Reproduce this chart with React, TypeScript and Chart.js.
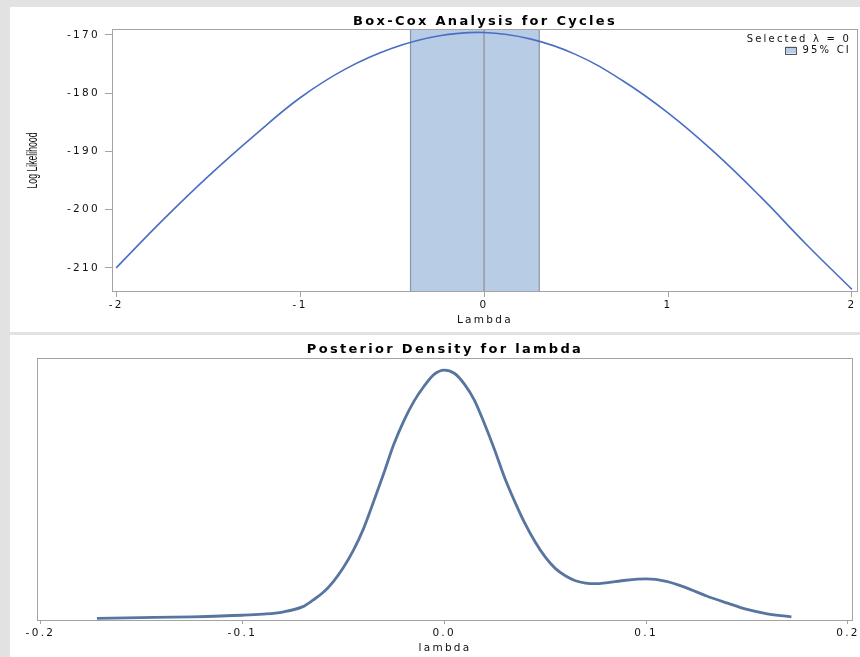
import { useEffect, useRef } from "react";
import { Chart, registerables } from "chart.js";

Chart.register(...registerables);

// ---- Box-Cox profile log likelihood ----
const boxCoxLambda = [-2, -1.75, -1.5, -1.25, -1, -0.75, -0.5, -0.25, 0, 0.25, 0.5, 0.75, 1, 1.25, 1.5, 1.75, 2];
const logLikelihood = [-210.0, -201.9, -194.3, -187.3, -180.8, -175.8, -172.3, -170.2, -169.6, -170.7, -173.4, -177.8, -183.4, -190.1, -197.7, -205.9, -213.7];
const logLikTicks = [-210, -200, -190, -180, -170];
const lambdaTicks = [-2, -1, 0, 1, 2];
const ciLower = -0.4;
const ciUpper = 0.3;
const selectedLambda = 0;

// ---- Posterior density for lambda ----
const postLambda = [-0.172, -0.15, -0.125, -0.1, -0.09, -0.08, -0.07, -0.065, -0.06, -0.055, -0.05, -0.045, -0.04, -0.035, -0.03, -0.025, -0.02, -0.015, -0.01, -0.005, 0, 0.005, 0.01, 0.015, 0.02, 0.025, 0.03, 0.035, 0.04, 0.045, 0.05, 0.055, 0.06, 0.065, 0.07, 0.075, 0.08, 0.09, 0.1, 0.11, 0.12, 0.13, 0.14, 0.15, 0.16, 0.172];
const postDensity = [0.01, 0.04, 0.08, 0.15, 0.2, 0.3, 0.55, 0.85, 1.2, 1.7, 2.35, 3.15, 4.15, 5.4, 6.7, 8.05, 9.15, 10.05, 10.75, 11.3, 11.5, 11.35, 10.85, 10.1, 9.0, 7.8, 6.5, 5.4, 4.4, 3.55, 2.85, 2.32, 1.98, 1.75, 1.64, 1.61, 1.65, 1.77, 1.83, 1.72, 1.42, 1.04, 0.72, 0.42, 0.22, 0.08];
const postTicks = [-0.2, -0.1, 0, 0.1, 0.2];

const FONT = "'DejaVu Sans', Verdana, sans-serif";
const YTITLE_FONT = "'Liberation Sans', Arial, sans-serif";
const TEXT = "#111";
const AXIS = "#a4a4a4";
const BAND = "#b8cce6";

const spacingPlugin = {
  id: "spacing",
  beforeDraw(chart: any) {
    chart.ctx.letterSpacing = "2.3px";
  },
};

const framePlugin = {
  id: "frame",
  afterDraw(chart: any) {
    const { ctx, chartArea: a } = chart;
    ctx.save();
    ctx.strokeStyle = AXIS;
    ctx.lineWidth = 1;
    ctx.strokeRect(Math.round(a.left) + 0.5, Math.round(a.top) + 0.5, Math.round(a.right - a.left) - 1, Math.round(a.bottom - a.top) - 1);
    ctx.restore();
  },
};

const ciBandPlugin = {
  id: "ciBand",
  beforeDatasetsDraw(chart: any) {
    const { ctx, chartArea: a, scales } = chart;
    const x = scales.x;
    const x1 = x.getPixelForValue(ciLower);
    const x2 = x.getPixelForValue(ciUpper);
    const x0 = x.getPixelForValue(selectedLambda);
    ctx.save();
    ctx.fillStyle = BAND;
    ctx.fillRect(x1, a.top, x2 - x1, a.bottom - a.top);
    ctx.strokeStyle = "#8a96a6";
    ctx.lineWidth = 1.2;
    ctx.beginPath();
    ctx.moveTo(x1, a.top);
    ctx.lineTo(x1, a.bottom);
    ctx.moveTo(x2, a.top);
    ctx.lineTo(x2, a.bottom);
    ctx.stroke();
    ctx.strokeStyle = "#9a9a9a";
    ctx.lineWidth = 1.5;
    ctx.beginPath();
    ctx.moveTo(x0, a.top);
    ctx.lineTo(x0, a.bottom);
    ctx.stroke();
    ctx.restore();
  },
  afterDraw(chart: any) {
    const { ctx, chartArea: a, scales } = chart;
    // y axis title (tall, condensed)
    ctx.save();
    ctx.letterSpacing = "0px";
    ctx.font = `14px ${YTITLE_FONT}`;
    ctx.fillStyle = TEXT;
    ctx.textAlign = "center";
    ctx.textBaseline = "middle";
    ctx.translate(scales.y.left + 23, (a.top + a.bottom) / 2);
    ctx.rotate(-Math.PI / 2);
    ctx.scale(0.62, 1);
    ctx.fillText("Log Likelihood", 0, 0);
    ctx.restore();
    // legend
    ctx.save();
    ctx.font = `10px ${FONT}`;
    ctx.letterSpacing = "2.2px";
    ctx.fillStyle = TEXT;
    ctx.textAlign = "right";
    ctx.textBaseline = "middle";
    const rx = a.right - 7;
    ctx.fillText(`Selected λ = ${selectedLambda}`, rx, a.top + 10);
    ctx.fillText("95% CI", rx, a.top + 21);
    const w = ctx.measureText("95% CI").width;
    const bx = rx - w - 17;
    ctx.fillStyle = BAND;
    ctx.fillRect(bx, a.top + 17.5, 11, 7);
    ctx.strokeStyle = "#555";
    ctx.lineWidth = 1;
    ctx.strokeRect(Math.round(bx) + 0.5, Math.round(a.top + 17.5) + 0.5, 11, 7);
    ctx.restore();
  },
};

function fixedTicks(values: number[]) {
  return (scale: any) => {
    scale.ticks = values.map((v) => ({ value: v }));
  };
}

export default function App() {
  const topRef = useRef<HTMLCanvasElement>(null);
  const botRef = useRef<HTMLCanvasElement>(null);

  useEffect(() => {
    const tickFont = { family: FONT, size: 10.5 };
    const titleFont = { family: FONT, size: 13, weight: "bold" as const, lineHeight: 1.2 };

    const top = new Chart(topRef.current!, {
      type: "line",
      data: {
        datasets: [
          {
            data: boxCoxLambda.map((x, i) => ({ x, y: logLikelihood[i] })),
            borderColor: "#4a6ec2",
            borderWidth: 1.6,
            pointRadius: 0,
            tension: 0.4,
            fill: false,
          },
        ],
      },
      options: {
        animation: false,
        responsive: false,
        devicePixelRatio: 1,
        events: [],
        layout: { padding: { left: 0, right: 2, top: 0, bottom: 0 } },
        plugins: {
          legend: { display: false },
          tooltip: { enabled: false },
          title: {
            display: true,
            fullSize: false,
            text: "Box-Cox Analysis for Cycles",
            font: titleFont,
            color: "#000",
            padding: { top: 6.4, bottom: 0 },
          },
        },
        scales: {
          x: {
            type: "linear",
            min: -2.023,
            max: 2.033,
            afterBuildTicks: fixedTicks(lambdaTicks),
            afterFit: (s: any) => {
              s.height = 40;
            },
            ticks: { font: tickFont, color: TEXT, padding: 2, maxRotation: 0, autoSkip: false, callback: (v: any) => String(v) },
            grid: { drawOnChartArea: false, drawTicks: true, tickLength: 5, color: AXIS },
            border: { display: false },
            title: { display: true, text: "Lambda", font: tickFont, color: TEXT, padding: { top: 0, bottom: 5 } },
          },
          y: {
            type: "linear",
            min: -214.15,
            max: -169.0,
            afterBuildTicks: fixedTicks(logLikTicks),
            afterFit: (s: any) => {
              s.width = 102;
            },
            ticks: { font: tickFont, color: TEXT, padding: 5, autoSkip: false, callback: (v: any) => String(v) },
            grid: { drawOnChartArea: false, drawTicks: true, tickLength: 7, color: AXIS },
            border: { display: false },
          },
        },
      },
      plugins: [spacingPlugin, ciBandPlugin, framePlugin],
    });

    const bot = new Chart(botRef.current!, {
      type: "line",
      data: {
        datasets: [
          {
            data: postLambda.map((x, i) => ({ x, y: postDensity[i] })),
            borderColor: "#57759f",
            borderWidth: 2.8,
            pointRadius: 0,
            cubicInterpolationMode: "monotone",
            fill: false,
          },
        ],
      },
      options: {
        animation: false,
        responsive: false,
        devicePixelRatio: 1,
        events: [],
        layout: { padding: { left: 27, right: 7, top: 0, bottom: 0 } },
        plugins: {
          legend: { display: false },
          tooltip: { enabled: false },
          title: {
            display: true,
            fullSize: false,
            text: "Posterior Density for lambda",
            font: titleFont,
            color: "#000",
            padding: { top: 6.9, bottom: 0 },
          },
        },
        scales: {
          x: {
            type: "linear",
            min: -0.2017,
            max: 0.2025,
            afterBuildTicks: fixedTicks(postTicks),
            afterFit: (s: any) => {
              s.height = 37;
            },
            ticks: { font: tickFont, color: TEXT, padding: 2.5, maxRotation: 0, autoSkip: false, callback: (v: any) => Number(v).toFixed(1) },
            grid: { drawOnChartArea: false, drawTicks: true, tickLength: 4, color: AXIS },
            border: { display: false },
            title: { display: true, text: "lambda", font: tickFont, color: TEXT, padding: { top: 0, bottom: 2.5 } },
          },
          y: {
            type: "linear",
            display: false,
            min: -0.069,
            max: 12.08,
          },
        },
      },
      plugins: [spacingPlugin, framePlugin],
    });

    return () => {
      top.destroy();
      bot.destroy();
    };
  }, []);

  return (
    <div style={{ position: "fixed", left: 0, top: 0, width: 860, height: 657, background: "#e2e2e2", overflow: "hidden" }}>
      <canvas ref={topRef} width={850} height={325} style={{ position: "absolute", left: 10, top: 7, background: "#fff" }} />
      <canvas ref={botRef} width={850} height={322} style={{ position: "absolute", left: 10, top: 335, background: "#fff" }} />
    </div>
  );
}
